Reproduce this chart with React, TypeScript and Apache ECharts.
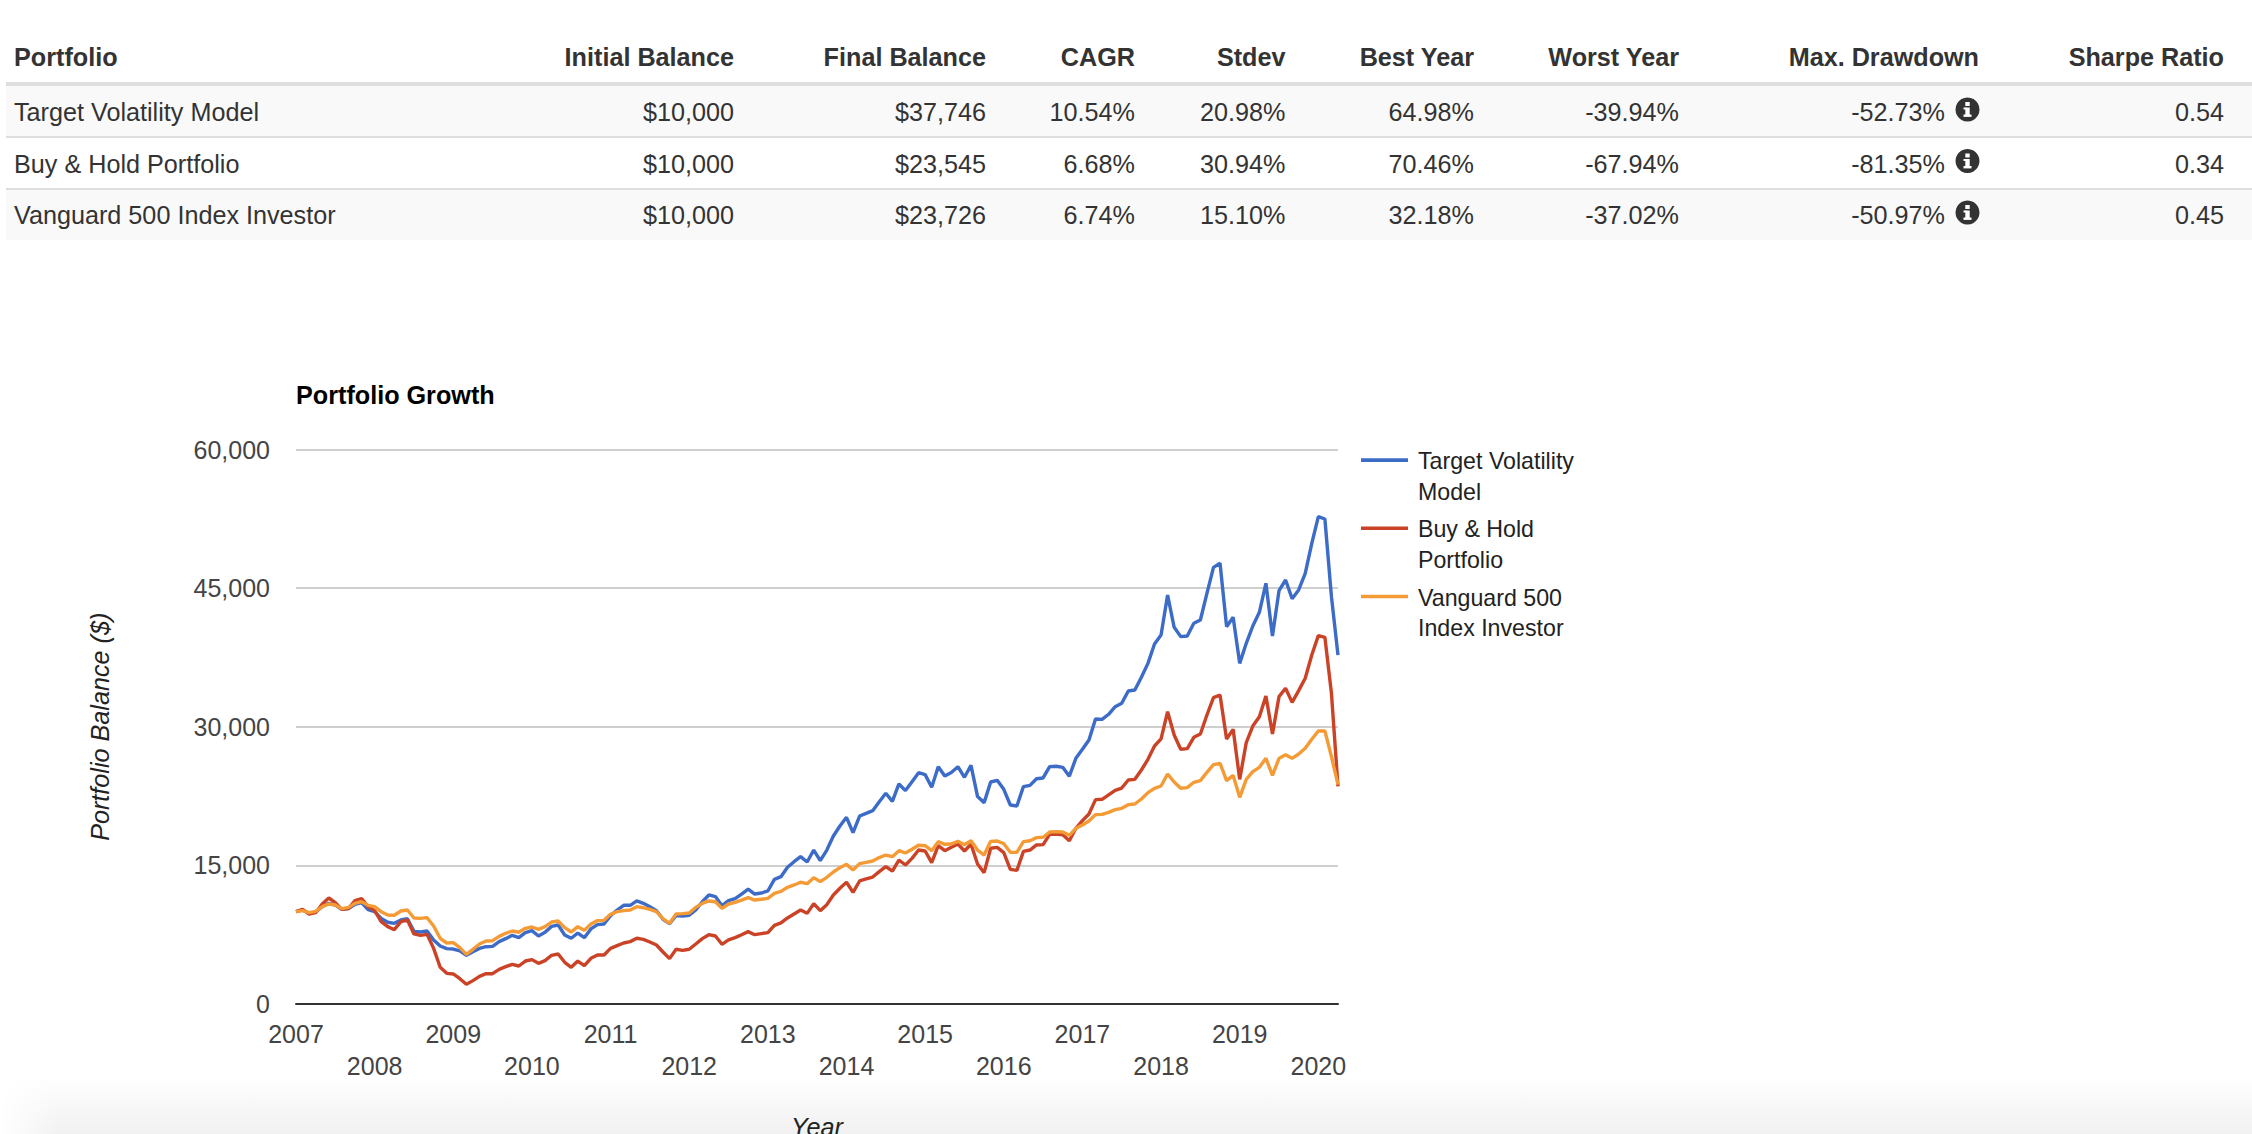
import React, { useEffect, useRef } from "react";
import * as echarts from "echarts";

const FONT = '"Liberation Sans", Arial, sans-serif';

const tableHeaders = ["Portfolio", "Initial Balance", "Final Balance", "CAGR", "Stdev", "Best Year", "Worst Year", "Max. Drawdown", "Sharpe Ratio"];
const tableRows = [
  ["Target Volatility Model", "$10,000", "$37,746", "10.54%", "20.98%", "64.98%", "-39.94%", "-52.73%", "0.54"],
  ["Buy & Hold Portfolio", "$10,000", "$23,545", "6.68%", "30.94%", "70.46%", "-67.94%", "-81.35%", "0.34"],
  ["Vanguard 500 Index Investor", "$10,000", "$23,726", "6.74%", "15.10%", "32.18%", "-37.02%", "-50.97%", "0.45"],
];

const seriesNames = ["Target Volatility Model", "Buy & Hold Portfolio", "Vanguard 500 Index Investor"];
const legendLabels = ["Target Volatility\nModel", "Buy & Hold\nPortfolio", "Vanguard 500\nIndex Investor"];
const years = [2007, 2008, 2009, 2010, 2011, 2012, 2013, 2014, 2015, 2016, 2017, 2018, 2019, 2020];
const yTicks = [0, 15000, 30000, 45000, 60000];

// Month-end balances, January 2007 to April 2020
const targetVolatility = [
  10000, 10170, 9810, 9950, 10530, 10890, 10710, 10240, 10320, 10790,
  10970, 10210, 9990, 9270, 8840, 8730, 9090, 9230, 7860, 7790,
  7900, 6930, 6280, 5990, 5950, 5740, 5270, 5660, 6020, 6200,
  6240, 6750, 7070, 7430, 7180, 7720, 7940, 7360, 7760, 8400,
  8550, 7470, 7110, 7680, 7180, 8120, 8590, 8660, 9560, 10170,
  10680, 10680, 11150, 10890, 10530, 10100, 9160, 8690, 9560, 9520,
  9600, 10170, 11070, 11800, 11620, 10640, 11180, 11400, 11900, 12440,
  11900, 12010, 12230, 13490, 13780, 14790, 15400, 15940, 15370, 16660,
  15510, 16660, 18180, 19260, 20200, 18540, 20340, 20630, 20920, 21890,
  22800, 21930, 23810, 23090, 24060, 25030, 24820, 23450, 25680, 24670,
  25050, 25680, 24530, 25830, 22440, 21790, 24020, 24200, 23230, 21530,
  21430, 23520, 23660, 24380, 24460, 25680, 25720, 25610, 24640, 26580,
  27560, 28570, 30840, 30800, 31350, 32170, 32540, 33870, 33980, 35350,
  36860, 38960, 39930, 44260, 40760, 39750, 39820, 41190, 41550, 44440,
  47250, 47690, 40830, 41840, 36860, 39030, 40900, 42380, 45520, 39820,
  44730, 45880, 43860, 44800, 46600, 49850, 52730, 52480, 44080, 37746,
];
const buyAndHold = [
  10000, 10240, 9740, 9880, 10820, 11470, 10970, 10240, 10320, 11180,
  11400, 10530, 10100, 8910, 8370, 8040, 8910, 9090, 7580, 7430,
  7540, 6020, 3970, 3320, 3250, 2740, 2130, 2530, 2990, 3280,
  3280, 3750, 4040, 4290, 4110, 4650, 4800, 4400, 4690, 5270,
  5410, 4510, 3970, 4650, 4150, 4940, 5300, 5300, 6020, 6310,
  6600, 6750, 7110, 7000, 6710, 6380, 5630, 4910, 5920, 5810,
  5920, 6490, 7070, 7500, 7360, 6460, 6930, 7180, 7500, 7830,
  7500, 7610, 7720, 8510, 8770, 9310, 9740, 10170, 9810, 10860,
  10100, 10750, 11800, 12520, 13170, 12080, 13310, 13530, 13740, 14320,
  14860, 14390, 15580, 15040, 15760, 16660, 16560, 15290, 17130, 16590,
  16950, 17310, 16560, 17280, 15150, 14210, 16850, 16950, 16380, 14570,
  14460, 16520, 16660, 17210, 17240, 18360, 18400, 18320, 17670, 19010,
  19840, 20560, 22110, 22150, 22620, 23120, 23370, 24240, 24310, 25320,
  26480, 27920, 28680, 31630, 29110, 27560, 27630, 28860, 29220, 31270,
  33150, 33440, 28680, 29720, 24310, 28280, 30080, 31090, 33330, 29220,
  33260, 34160, 32640, 33910, 35240, 37770, 39860, 39680, 33620, 23545,
];
const vanguard500 = [
  10000, 10100, 9880, 10030, 10530, 10820, 10710, 10320, 10460, 10890,
  11070, 10680, 10530, 9990, 9630, 9600, 10060, 10170, 9310, 9270,
  9340, 8440, 7110, 6600, 6640, 6100, 5370, 5920, 6490, 6820,
  6850, 7320, 7650, 7900, 7760, 8190, 8330, 8080, 8370, 8870,
  8980, 8260, 7790, 8370, 7970, 8660, 9020, 9050, 9700, 9990,
  10100, 10170, 10530, 10420, 10240, 9990, 9230, 8730, 9740, 9780,
  9850, 10460, 10890, 11150, 11070, 10350, 10820, 11000, 11250, 11510,
  11250, 11330, 11430, 11980, 12190, 12630, 12880, 13170, 13020, 13670,
  13240, 13710, 14280, 14750, 15110, 14500, 15190, 15330, 15470, 15840,
  16120, 15940, 16590, 16340, 16740, 17170, 17130, 16590, 17570, 17280,
  17310, 17600, 17240, 17670, 16660, 16120, 17600, 17640, 17350, 16410,
  16410, 17570, 17670, 18000, 18040, 18610, 18650, 18610, 18250, 19010,
  19370, 19800, 20490, 20520, 20740, 21030, 21170, 21570, 21640, 22180,
  22870, 23340, 23590, 24890, 24020, 23340, 23410, 23990, 24170, 25070,
  25900, 26040, 24170, 24740, 22360, 24310, 25140, 25610, 26580, 24740,
  26580, 26980, 26580, 27050, 27670, 28640, 29540, 29540, 26760, 23726,
];

const monthSuffixes = ["01", "02", "03", "04", "05", "06", "07", "08", "09", "10", "11", "12"];
const categories = years.flatMap((y) => monthSuffixes.map((m) => `${y}-${m}`)).slice(0, targetVolatility.length);

const seriesColors = ["#3C6BC8", "#CB4326", "#F59B36"];
const seriesValues = [targetVolatility, buyAndHold, vanguard500];

const colRight = [0, 734, 986, 1135, 1285.5, 1474, 1679, 1979, 2224];
const headerY = 57;
const rowY = [112, 163.5, 215];
const TEXT = "#333";

function tableGraphics() {
  const els: any[] = [];
  // page-bottom shade, fading out towards both page edges
  els.push({
    type: "rect", z: -10, silent: true,
    shape: { x: 0, y: 1076, width: 2252, height: 58 },
    style: {
      fill: new echarts.graphic.LinearGradient(0, 0, 0, 1, [
        { offset: 0, color: "#ffffff" },
        { offset: 1, color: "#f1f1f1" },
      ]),
    },
  });
  els.push({
    type: "rect", z: -9, silent: true,
    shape: { x: 0, y: 1076, width: 60, height: 58 },
    style: {
      fill: new echarts.graphic.LinearGradient(0, 0, 1, 0, [
        { offset: 0, color: "rgba(255,255,255,1)" },
        { offset: 1, color: "rgba(255,255,255,0)" },
      ]),
    },
  });
  [[86, 50], [190, 50]].forEach(([y, h]) =>
    els.push({ type: "rect", z: -5, silent: true, shape: { x: 6, y, width: 2246, height: h }, style: { fill: "#f9f9f9" } })
  );
  [[82, 4], [136, 2], [188, 2]].forEach(([y, h]) =>
    els.push({ type: "rect", z: -4, silent: true, shape: { x: 6, y, width: 2246, height: h }, style: { fill: "#dedede" } })
  );
  tableHeaders.forEach((t, c) => {
    els.push({
      type: "text", silent: true, x: c === 0 ? 14 : colRight[c], y: headerY,
      style: { text: t, fill: TEXT, font: `bold 25.2px ${FONT}`, textAlign: c === 0 ? "left" : "right", textVerticalAlign: "middle" },
    });
  });
  tableRows.forEach((row, r) => {
    row.forEach((t, c) => {
      const right = c === 7 ? 1945 : colRight[c];
      els.push({
        type: "text", silent: true, x: c === 0 ? 14 : right, y: rowY[r],
        style: { text: t, fill: TEXT, font: `25.2px ${FONT}`, textAlign: c === 0 ? "left" : "right", textVerticalAlign: "middle" },
      });
    });
    const cx = 1967.5;
    const cy = rowY[r] - 2.5;
    els.push({ type: "circle", silent: true, shape: { cx, cy, r: 12 }, style: { fill: "#333" } });
    els.push({ type: "rect", silent: true, z: 1, shape: { x: cx - 2.2, y: cy - 7.5, width: 4.4, height: 4 }, style: { fill: "#fff" } });
    els.push({ type: "rect", silent: true, z: 1, shape: { x: cx - 2.2, y: cy - 2, width: 4.4, height: 8 }, style: { fill: "#fff" } });
    els.push({ type: "rect", silent: true, z: 1, shape: { x: cx - 4, y: cy + 5, width: 8, height: 2.4 }, style: { fill: "#fff" } });
    els.push({ type: "rect", silent: true, z: 1, shape: { x: cx - 4, y: cy - 2, width: 3, height: 2 }, style: { fill: "#fff" } });
  });
  return els;
}

export default function App() {
  const ref = useRef<HTMLDivElement>(null);
  useEffect(() => {
    const chart = echarts.init(ref.current!, undefined, { renderer: "svg" });
    chart.setOption({
      animation: false,
      backgroundColor: "#ffffff",
      textStyle: { fontFamily: FONT },
      color: seriesColors,
      title: {
        text: "Portfolio Growth", left: 296, top: 382, padding: 0,
        textStyle: { fontFamily: FONT, fontSize: 25.2, fontWeight: "bold", color: "#000" },
      },
      graphic: tableGraphics(),
      legend: {
        orient: "vertical", left: 1361, top: 446, padding: 0,
        itemWidth: 47, itemHeight: 61, itemGap: 7,
        icon: "path://M0 0H47ZM0 12.2H47V15.8H0ZM0 61H47Z",
        data: seriesNames,
        formatter: (name: string) => legendLabels[seriesNames.indexOf(name)],
        textStyle: { fontFamily: FONT, fontSize: 23.2, lineHeight: 30.6, color: "#222", padding: [0, 0, 0, 5] },
        selectedMode: false,
      },
      grid: { left: 296, right: 914, top: 449.5, height: 554.5, containLabel: false, outerBoundsMode: "none" },
      xAxis: {
        type: "category", data: categories, boundaryGap: false,
        name: "Year", nameLocation: "middle", nameGap: 110.5,
        nameTextStyle: { fontFamily: FONT, fontSize: 25.2, fontStyle: "italic", color: "#222" },
        axisLine: { lineStyle: { color: "#333", width: 2 } },
        axisTick: { show: false },
        splitLine: { show: false },
        axisLabel: {
          interval: (i: number) => i % 12 === 0,
          formatter: (v: string) => {
            const y = Number(v.slice(0, 4));
            return y % 2 === 0 ? `\n${y}` : `${y}`;
          },
          fontFamily: FONT, fontSize: 25, lineHeight: 32, color: "#444", margin: 14,
        },
      },
      yAxis: {
        type: "value", min: yTicks[0], max: yTicks[yTicks.length - 1], interval: yTicks[1],
        name: "Portfolio Balance ($)", nameLocation: "middle", nameGap: 183.5,
        nameTextStyle: { fontFamily: FONT, fontSize: 25.2, fontStyle: "italic", color: "#222" },
        axisLine: { show: false }, axisTick: { show: false },
        splitLine: { lineStyle: { color: "#cfcfcf", width: 2 } },
        axisLabel: {
          formatter: (v: number) => v.toLocaleString("en-US"),
          fontFamily: FONT, fontSize: 25, color: "#444", margin: 26,
        },
      },
      series: seriesNames.map((name, k) => ({
        name, type: "line", data: seriesValues[k], showSymbol: false, symbol: "none",
        lineStyle: { color: seriesColors[k], width: 3.4 },
        itemStyle: { color: seriesColors[k] },
      })),
    });
    return () => chart.dispose();
  }, []);
  return <div ref={ref} style={{ position: "absolute", left: 0, top: 0, width: 2252, height: 1134 }} />;
}
